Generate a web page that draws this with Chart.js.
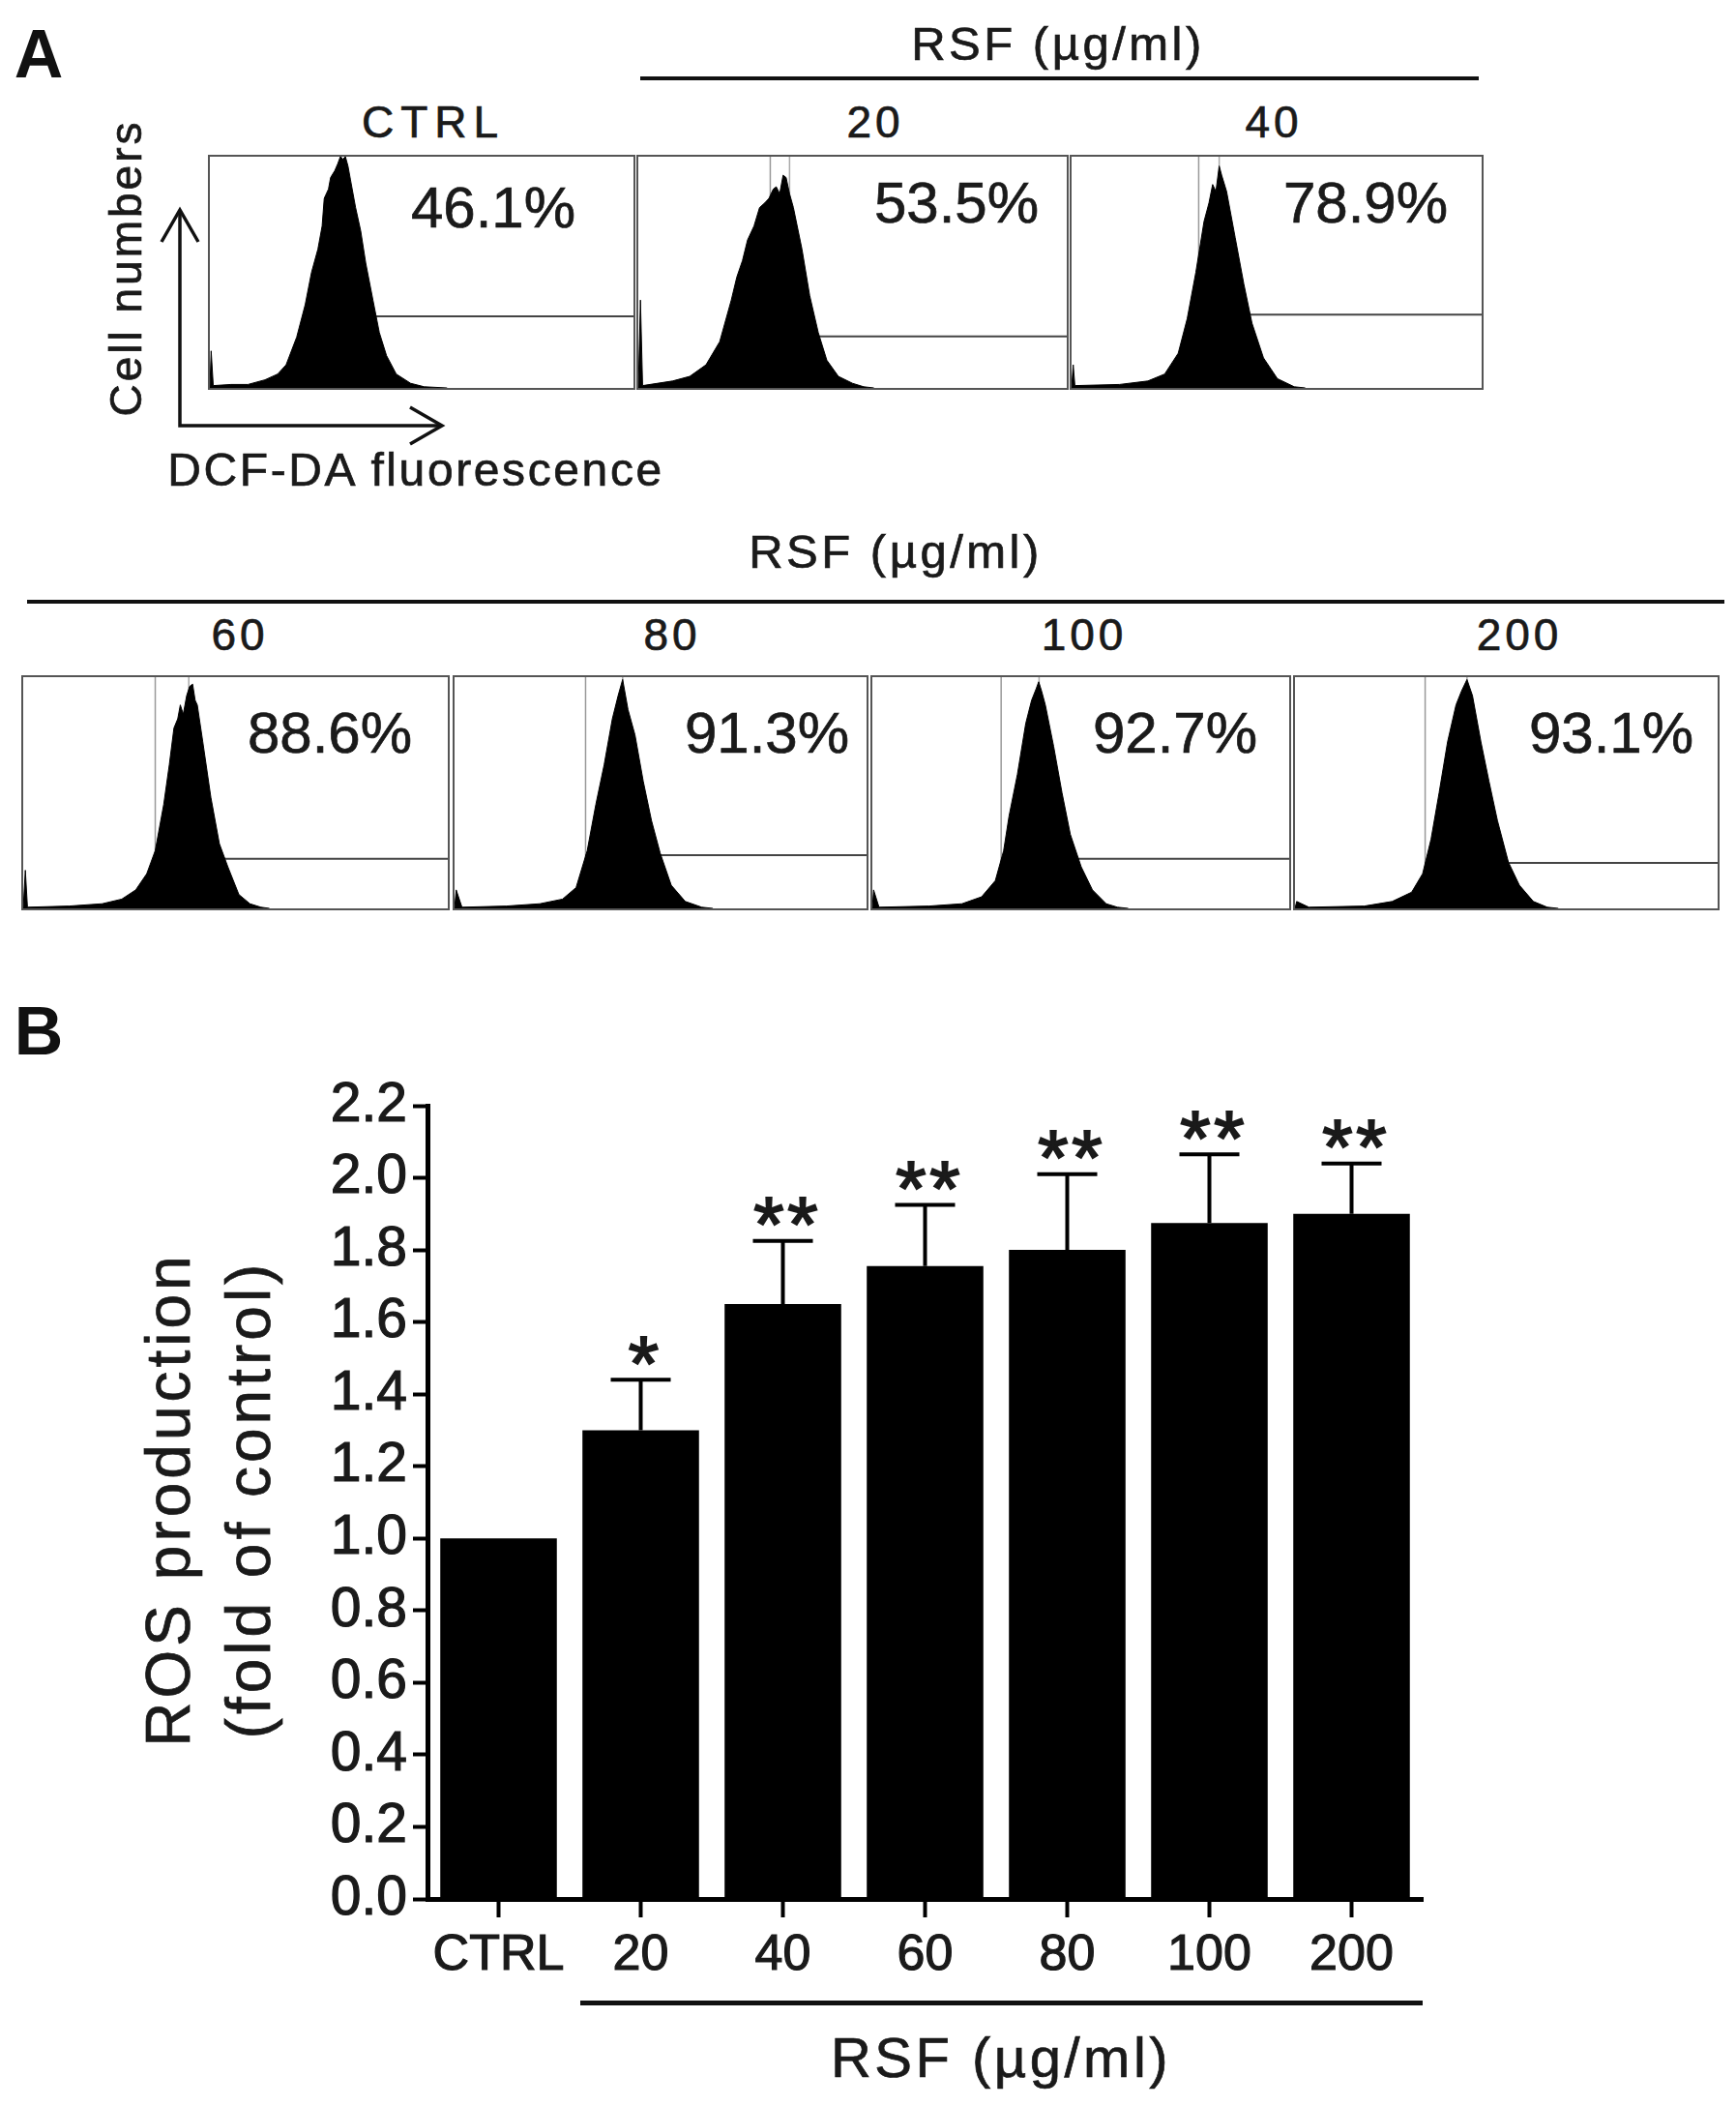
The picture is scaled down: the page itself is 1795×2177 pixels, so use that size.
<!DOCTYPE html>
<html lang="en">
<head>
  <meta charset="UTF-8">
  <title>RSF - ROS production</title>
  <script src="https://cdn.jsdelivr.net/npm/chart.js@4.4.1/dist/chart.umd.min.js"></script>
  <style>
    body { margin: 0; background: #fff; }
    #page {
      position: relative;
      width: 1795px;
      height: 2177px;
      overflow: hidden;
      font-family: "Liberation Sans", Arial, sans-serif;
      color: #1a1a1a;
    }
    .t {
      position: absolute;
      white-space: nowrap;
      line-height: 1;
      transform: translate(-50%, -50%);
      -webkit-text-stroke: 0.7px #1a1a1a;
    }
    .letter { font-size: 70px; font-weight: bold; color: #111; -webkit-text-stroke: 0; }
    .head { font-size: 49px; letter-spacing: 3.5px; }
    .dose { font-size: 46px; letter-spacing: 4px; }
    .pct { font-size: 60px; }
    .vert { transform: translate(-50%, -50%) rotate(-90deg); }
    .rule { position: absolute; background: #111; }
    .box { position: absolute; border: 2px solid #555; box-sizing: border-box; }
    .box canvas { display: block; }
  </style>
</head>
<body>
<div id="page">
  <!-- Panel A -->
  <div class="t letter" style="left:40px; top:56px;">A</div>
  <div class="t head" style="left:1094px; top:45px;">RSF (µg/ml)</div>
  <div class="rule" style="left:662px; top:79px; width:867px; height:4px;"></div>

  <div class="t dose" style="left:448px; top:126px; letter-spacing:7px;">CTRL</div>
  <div class="t dose" style="left:905px; top:126px;">20</div>
  <div class="t dose" style="left:1317px; top:126px;">40</div>

  <div class="t head" style="left:926px; top:570px;">RSF (µg/ml)</div>
  <div class="rule" style="left:28px; top:620px; width:1755px; height:4px;"></div>

  <div class="t dose" style="left:248px; top:656px;">60</div>
  <div class="t dose" style="left:695px; top:656px;">80</div>
  <div class="t dose" style="left:1121px; top:656px;">100</div>
  <div class="t dose" style="left:1571px; top:656px;">200</div>

  <div id="boxes"></div>

  <svg style="position:absolute; left:0; top:0;" width="700" height="520">
    <g stroke="#111" stroke-width="3.5" fill="none" stroke-linejoin="miter">
      <polyline points="186,217 186,440 457,440"/>
      <polyline points="167,250 186,217 205,250"/>
      <polyline points="424,421 457,440 424,459"/>
    </g>
  </svg>
  <div class="t vert" style="left:130px; top:277px; font-size:46px; letter-spacing:3px;">Cell numbers</div>
  <div class="t" style="left:430px; top:486px; font-size:48px; letter-spacing:2.6px;">DCF-DA fluorescence</div>

  <!-- Panel B -->
  <div class="t letter" style="left:40px; top:1066px;">B</div>
  <div class="t vert" style="left:174px; top:1550px; font-size:64px; letter-spacing:4px;">ROS production</div>
  <div class="t vert" style="left:257px; top:1550px; font-size:64px; letter-spacing:4px;">(fold of control)</div>
  <canvas id="rosChart" width="1600" height="1040" style="position:absolute; left:0; top:1080px;"></canvas>
  <div class="rule" style="left:600px; top:2068px; width:871px; height:5px;"></div>
  <div class="t" style="left:1035px; top:2127px; font-size:58px; letter-spacing:3.5px;">RSF (µg/ml)</div>
</div>

<script>
  // ---- Panel A: flow histograms (x = % of channel range, y = % of box height) ----
  const histCtrl = [[0,0],[0.3,16],[0.8,1],[5,1.5],[9,1.5],[13,3.5],[16,6],[18,10],[20.5,22],[22.5,36],[24,50],[25.5,60],[26.5,70],[27,82],[28,86],[28.5,91],[29.5,94],[30.2,97],[30.8,100],[31.4,99],[32,100],[32.6,96],[33.2,90],[34.4,78],[35.6,68],[36.8,54],[38.5,38],[40,24],[41.7,14],[44,6],[47.4,2],[50.6,0.5],[56,0]];
  const hist20 = [[0,0],[0.5,38],[1,1],[8,3],[12,5],[15.8,10],[19,20],[21.7,38],[23,48],[24.3,55],[25.5,64],[27,70],[28.3,78],[29.5,80],[30.5,82],[31.5,86],[32.2,87],[33,84],[33.8,92],[34.5,91],[35.3,84],[36.2,78],[38.2,60],[40,40],[42,24],[44,12],[46.7,5],[50,2],[52.6,0.5],[55,0]];
  const hist40 = [[0,0],[0.4,10],[0.8,1],[11.7,1.5],[18.6,3],[22.7,6],[26,15],[28.2,30],[30.3,50],[32.3,72],[33.5,80],[34.4,88],[35.2,85],[36,96],[36.6,92],[37.8,85],[39.9,65],[42,45],[44,28],[46.8,13],[50.2,4],[54.3,0.5],[57,0]];
  const hist60 = [[0,0],[0.5,16.5],[1,0.5],[10.8,1],[18.6,2],[23.2,4],[26.5,8],[29.1,15],[31.1,25],[33.1,45],[34.4,62],[35.5,78],[36.4,82],[37,88],[37.7,84],[38.5,92],[39.2,96],[39.9,97],[40.5,90],[41,88],[42.3,72],[44.2,48],[46.2,28],[48.2,18],[50.8,6],[53.4,2],[56,0.5],[58,0]];
  const hist80 = [[0,0],[0.4,8],[1.8,0.5],[12.6,1],[20.7,2],[26.2,4],[29.5,9],[32.2,25],[34.3,45],[36.3,62],[38.3,82],[39.7,92],[40.8,99],[42.1,86],[43.8,75],[45.8,55],[47.8,38],[49.9,24],[52.6,10],[56,3],[60,0.5],[62.7,0]];
  const hist100 = [[0,0],[0.3,8],[1.6,0.5],[13.6,1],[21.5,2],[26.2,5],[29.5,12],[31.5,25],[32.8,40],[34.8,58],[36.8,80],[38.2,90],[39.3,95],[39.9,98],[40.6,94],[41.5,88],[43.5,70],[45.5,50],[47.5,32],[50.1,18],[52.8,8],[56.1,2],[58.8,0.5],[61.4,0]];
  const hist200 = [[0,0],[0.4,3],[3.3,0.5],[16.4,1],[23,3],[27.6,7],[30.2,15],[32.2,30],[34.1,50],[36.1,72],[38.1,88],[39.4,94],[40.7,99],[42,92],[44,72],[45.9,55],[47.9,38],[50.5,20],[53.1,10],[56.4,3],[59.7,0.5],[62.3,0]];

  // marker positions: left edge, second marker, gate height
  const markerLeft  = [31, 30.8, 31, 31.1, 31.8, 30.9, 30.8];
  const markerRight = [32, 35.3, 36, 39, 40.8, 40, 40.7];
  const gateLevel   = [31, 22.3, 31.7, 21.4, 23, 21.4, 19.7];
  const percentLabels = ['46.1%', '53.5%', '78.9%', '88.6%', '91.3%', '92.7%', '93.1%'];
  const histograms = [histCtrl, hist20, hist40, hist60, hist80, hist100, hist200];

  // box placement [left, top, width, height] and label centre
  const boxes = [
    [215, 160, 442, 243, 510, 215],
    [658, 160, 447, 243, 989, 210],
    [1106, 160, 428, 243, 1412, 210],
    [22, 698, 443, 243, 341, 758],
    [468, 698, 430, 243, 793, 758],
    [900, 698, 435, 243, 1215, 758],
    [1337, 698, 441, 243, 1666, 758]
  ];

  Chart.defaults.font.family = '"Liberation Sans", Arial, sans-serif';

  const page = document.getElementById('page');
  const holder = document.getElementById('boxes');

  boxes.forEach((b, i) => {
    const div = document.createElement('div');
    div.className = 'box';
    div.style.left = b[0] + 'px';
    div.style.top = b[1] + 'px';
    div.style.width = b[2] + 'px';
    div.style.height = b[3] + 'px';
    const cv = document.createElement('canvas');
    cv.width = b[2] - 4;
    cv.height = b[3] - 4;
    div.appendChild(cv);
    holder.appendChild(div);

    const label = document.createElement('div');
    label.className = 't pct';
    label.style.left = b[4] + 'px';
    label.style.top = b[5] + 'px';
    label.textContent = percentLabels[i];
    page.appendChild(label);

    const pts = histograms[i].map(p => ({ x: p[0], y: p[1] }));
    new Chart(cv, {
      type: 'line',
      data: {
        datasets: [
          { data: pts, fill: 'origin', backgroundColor: '#000', borderColor: '#000', borderWidth: 1, pointRadius: 0, tension: 0 },
          { data: [{ x: markerLeft[i], y: gateLevel[i] }, { x: 100, y: gateLevel[i] }], borderColor: '#444', borderWidth: 2, pointRadius: 0, fill: false },
          { data: [{ x: markerLeft[i], y: 0 }, { x: markerLeft[i], y: 100 }], borderColor: '#999', borderWidth: 1.5, pointRadius: 0, fill: false },
          { data: [{ x: markerRight[i], y: 0 }, { x: markerRight[i], y: 100 }], borderColor: '#aaa', borderWidth: 1.5, pointRadius: 0, fill: false }
        ]
      },
      options: {
        responsive: false,
        animation: false,
        events: [],
        layout: { padding: 0 },
        plugins: { legend: { display: false }, tooltip: { enabled: false } },
        scales: {
          x: { type: 'linear', min: 0, max: 100, display: false },
          y: { min: 0, max: 100, display: false }
        }
      }
    });
  });

  // ---- Panel B: ROS production bar chart ----
  const doseLabels = ['CTRL', '20', '40', '60', '80', '100', '200'];
  const rosMean = [1.00, 1.30, 1.65, 1.755, 1.80, 1.875, 1.90];
  const rosSD = [0, 0.14, 0.175, 0.17, 0.21, 0.19, 0.14];
  const sigMarks = ['', '*', '**', '**', '**', '**', '**'];

  const errorBars = {
    id: 'errorBars',
    afterDatasetsDraw(chart) {
      const { ctx } = chart;
      const y = chart.scales.y;
      const meta = chart.getDatasetMeta(0);
      ctx.save();
      ctx.strokeStyle = '#000';
      ctx.fillStyle = '#1a1a1a';
      ctx.lineWidth = 4;
      ctx.font = '100px "Liberation Sans", Arial';
      const probe = ctx.measureText('*');
      const starSize = 100 * 29 / (probe.actualBoundingBoxAscent + probe.actualBoundingBoxDescent);
      ctx.font = starSize + 'px "Liberation Sans", Arial';
      ctx.textAlign = 'center';
      const m = ctx.measureText('*');
      meta.data.forEach((bar, i) => {
        if (!rosSD[i]) return;
        const top = y.getPixelForValue(rosMean[i] + rosSD[i]);
        const base = y.getPixelForValue(rosMean[i]);
        ctx.lineWidth = 4;
        ctx.beginPath();
        ctx.moveTo(bar.x, base);
        ctx.lineTo(bar.x, top);
        ctx.moveTo(bar.x - 31, top);
        ctx.lineTo(bar.x + 31, top);
        ctx.stroke();
        const cy = top - 30;
        const baseline = cy + (m.actualBoundingBoxAscent - m.actualBoundingBoxDescent) / 2;
        const n = sigMarks[i].length;
        ctx.lineWidth = 2;
        ctx.strokeStyle = '#1a1a1a';
        for (let k = 0; k < n; k++) {
          const sx = bar.x + 3 + (k - (n - 1) / 2) * 35;
          ctx.fillText('*', sx, baseline);
          ctx.strokeText('*', sx, baseline);
        }
        ctx.strokeStyle = '#000';
      });
      ctx.restore();
    }
  };

  new Chart(document.getElementById('rosChart'), {
    type: 'bar',
    data: {
      labels: doseLabels,
      datasets: [{
        data: rosMean,
        backgroundColor: '#000',
        borderWidth: 0,
        barPercentage: 0.82,
        categoryPercentage: 1.0
      }]
    },
    options: {
      responsive: false,
      animation: false,
      events: [],
      layout: { padding: { left: 0, top: 63, right: 129, bottom: 57 } },
      plugins: { legend: { display: false }, tooltip: { enabled: false } },
      scales: {
        x: {
          grid: { display: true, drawOnChartArea: false, offset: false, tickLength: 19, tickWidth: 4, tickColor: '#000' },
          border: { display: true, width: 5, color: '#000' },
          ticks: { color: '#1a1a1a', font: { size: 52 }, padding: 8, maxRotation: 0, autoSkip: false, textStrokeColor: '#1a1a1a', textStrokeWidth: 1.2 },
          afterFit(scale) { scale.height = 100; }
        },
        y: {
          min: 0,
          max: 2.2,
          ticks: { stepSize: 0.2, color: '#1a1a1a', font: { size: 57 }, padding: 6, callback: v => v.toFixed(1), textStrokeColor: '#1a1a1a', textStrokeWidth: 1.2 },
          grid: { drawOnChartArea: false, tickLength: 15, tickWidth: 4, tickColor: '#000' },
          border: { display: true, width: 5, color: '#000' },
          afterFit(scale) { scale.width = 442; }
        }
      }
    },
    plugins: [errorBars]
  });
</script>
</body>
</html>
